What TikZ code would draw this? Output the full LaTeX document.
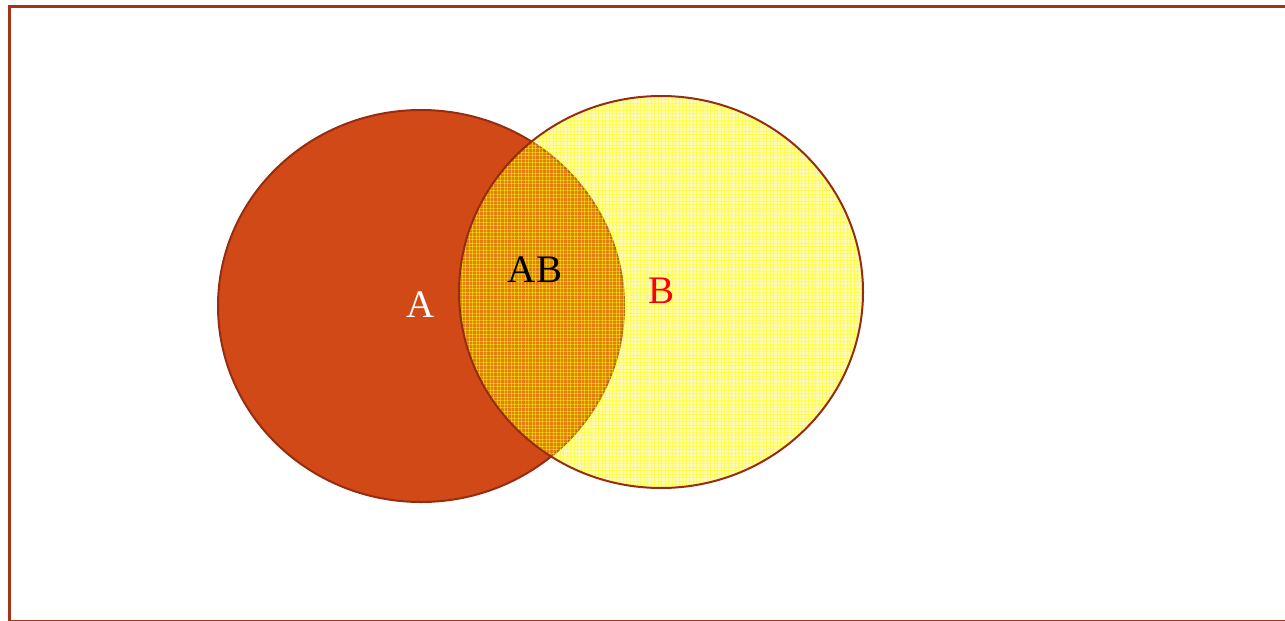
\documentclass[tikz,border=0pt]{standalone}
\usepackage{fontspec}
\setmainfont{Liberation Serif}
\usetikzlibrary{patterns.meta}
\definecolor{frameRed}{RGB}{165,52,22}
\definecolor{setA}{RGB}{209,73,23}
\definecolor{rimRed}{RGB}{150,45,18}
\tikzset{
  setlabel/.style={font=\fontsize{39}{42}\selectfont, inner sep=0pt},
  rim/.style={draw=rimRed, line width=2pt}
}
\begin{document}
\begin{tikzpicture}[x=1pt,y=-1pt]
  \useasboundingbox (0,0) rectangle (1285,621);
  % outer frame, running past the right and bottom edges
  \draw[frameRed, line width=3pt] (9,6) rectangle (1300,621.5);
  % set A
  \draw[rim, fill=setA] (421,306) ellipse [x radius=203, y radius=196];
  % set B, translucent yellow with a fine grid texture
  \fill[yellow, opacity=0.32] (661,292) ellipse [x radius=202, y radius=196];
  \fill[pattern={Lines[angle=0,distance=3.5pt,line width=0.7pt]}, pattern color=yellow, opacity=0.45]
    (661,292) ellipse [x radius=202, y radius=196];
  \fill[pattern={Lines[angle=90,distance=3.5pt,line width=0.7pt]}, pattern color=yellow, opacity=0.45]
    (661,292) ellipse [x radius=202, y radius=196];
  \draw[rim] (661,292) ellipse [x radius=202, y radius=196];
  % labels
  \node[setlabel, text=white] (a) at (421,305) {A};
  \node[setlabel, text=black] (ab) at (535,270) {AB};
  \node[setlabel, text=red] (b) at (661,291) {B};
\end{tikzpicture}
\end{document}
